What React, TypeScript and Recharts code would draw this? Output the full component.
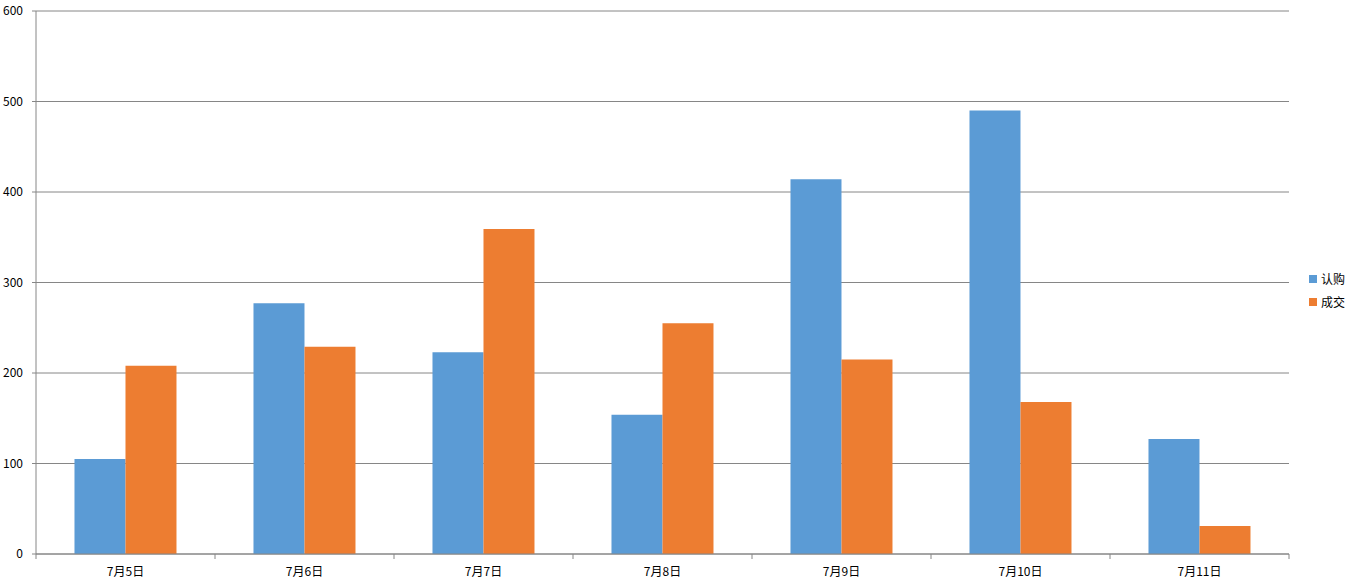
import { BarChart, Bar, XAxis, YAxis, CartesianGrid } from "recharts";

const dates = ["7月5日", "7月6日", "7月7日", "7月8日", "7月9日", "7月10日", "7月11日"];
const subscribed = [105, 277, 223, 154, 414, 490, 127];
const closed = [208, 229, 359, 255, 215, 168, 31];
const yTicks = [0, 100, 200, 300, 400, 500, 600];

const data = dates.map((d, i) => ({ date: d, 认购: subscribed[i], 成交: closed[i] }));

const axisColor = "#868686";
const font = "'Noto Sans CJK SC', 'Noto Sans', sans-serif";

const legendItems = [
  { name: "认购", color: "#5b9bd5" },
  { name: "成交", color: "#ed7d31" },
];

// category label at band centre, tick marks at band edges (Excel style)
function DateTick(props: any) {
  const { x, y, payload, index, visibleTicksCount } = props;
  const half = payload?.offset ?? 0;
  const isLast = index === visibleTicksCount - 1;
  return (
    <g>
      <line x1={x - half} x2={x - half} y1={y} y2={y + 5} stroke={axisColor} />
      {isLast && <line x1={x + half} x2={x + half} y1={y} y2={y + 5} stroke={axisColor} />}
      <text x={x} y={y + 13} dy="0.71em" textAnchor="middle" fill="#000" fontSize={12} fontFamily={font}>
        {payload.value}
      </text>
    </g>
  );
}

function LegendBox() {
  return (
    <div style={{ position: "absolute", left: 1309, top: 267, fontFamily: font, fontSize: 12, color: "#000" }}>
      {legendItems.map((it) => (
        <div key={it.name} style={{ display: "flex", alignItems: "center", height: 23 }}>
          <span style={{ width: 8, height: 8, background: it.color, marginRight: 4, display: "inline-block" }} />
          <span>{it.name}</span>
        </div>
      ))}
    </div>
  );
}

export default function App() {
  return (
    <div style={{ position: "absolute", left: 0, top: 0, width: 1357, height: 585, background: "#fff" }}>
      <BarChart
        width={1357}
        height={585}
        data={data}
        margin={{ top: 11, right: 68, bottom: 0, left: 0 }}
        barCategoryGap="21.5%"
        barGap={0}
      >
        <CartesianGrid horizontal vertical={false} stroke={axisColor} strokeWidth={1} />
        <XAxis
          dataKey="date"
          height={31}
          tickLine={false}
          tickSize={0}
          tickMargin={0}
          axisLine={{ stroke: axisColor }}
          tick={<DateTick />}
          interval={0}
        />
        <YAxis
          width={36}
          domain={[0, 600]}
          ticks={yTicks}
          axisLine={{ stroke: axisColor }}
          tickLine={{ stroke: axisColor }}
          tickSize={4}
          tick={{ fill: "#000", fontSize: 12, fontFamily: font }}
          tickMargin={9}
        />
        <Bar dataKey="认购" fill="#5b9bd5" isAnimationActive={false} />
        <Bar dataKey="成交" fill="#ed7d31" isAnimationActive={false} />
      </BarChart>
      <LegendBox />
    </div>
  );
}
